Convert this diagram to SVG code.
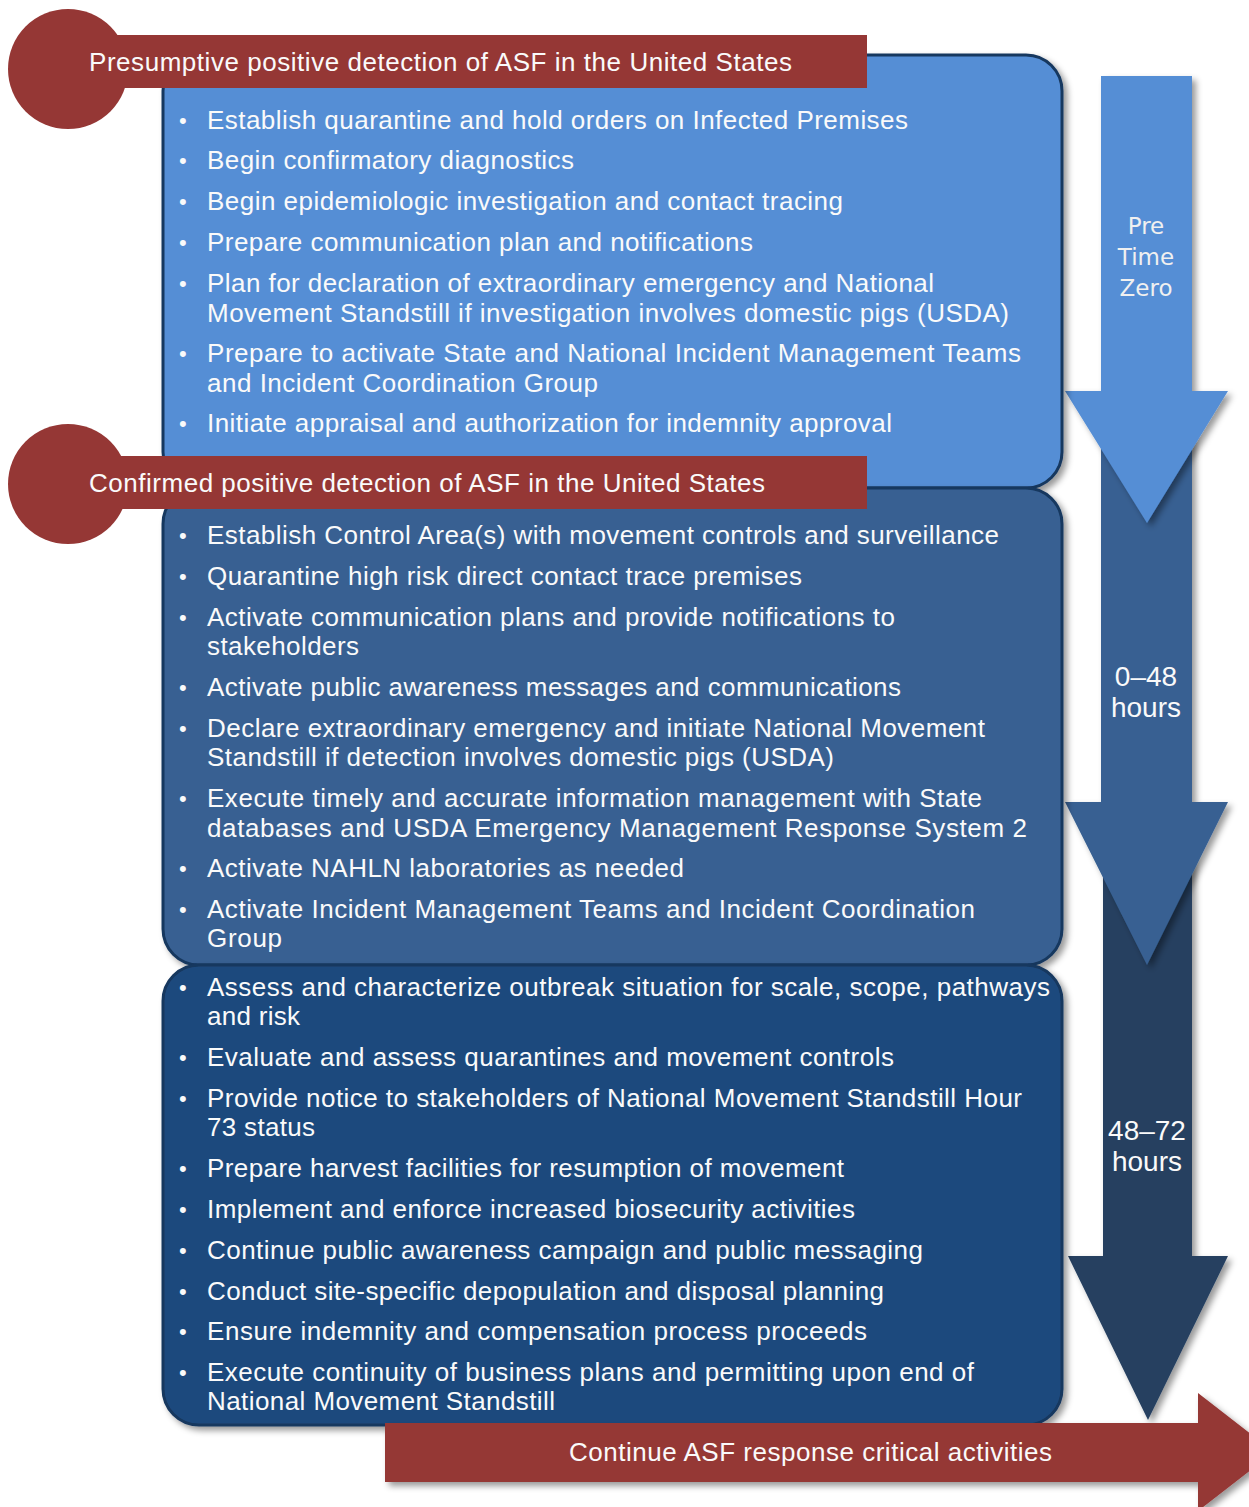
<svg xmlns="http://www.w3.org/2000/svg" width="1249" height="1507" viewBox="0 0 1249 1507">
<defs>
<filter id="sh" x="-10%" y="-10%" width="130%" height="130%">
<feDropShadow dx="4" dy="4" stdDeviation="3" flood-color="#000" flood-opacity="0.4"/>
</filter>
</defs>
<style>
.t{font-family:"Liberation Sans",Arial,sans-serif;font-size:26px;fill:#FAFAFA}
.b{font-family:"Liberation Sans",Arial,sans-serif;font-size:22px;fill:#FAFAFA}
.h{font-family:"Liberation Sans",Arial,sans-serif;font-size:26px;fill:#FAFAFA}
.lab{font-family:"Liberation Sans",Arial,sans-serif;font-size:28px;fill:#FAFAFA;text-anchor:middle}
.lab2{font-family:"DejaVu Sans","Liberation Sans",sans-serif;font-size:23px;fill:#F0F0F0;text-anchor:middle}
.box{stroke:#17375E;stroke-width:3}
.red{fill:#953735}
</style>
<rect width="1249" height="1507" fill="#FFFFFF"/>

<g id="timeline">
<polygon filter="url(#sh)" fill="#254061" points="1103,830 1192,830 1192,1256 1228,1256 1148,1420 1068,1256 1103,1256"/>
<polygon filter="url(#sh)" fill="#376092" points="1101,420 1192,420 1192,802 1228,802 1147,965 1065,802 1101,802"/>
<polygon filter="url(#sh)" fill="#558ED5" points="1101,76 1192,76 1192,391 1228,391 1147,523 1065,391 1101,391"/>
<text class="lab2" x="1146" y="234">Pre</text>
<text class="lab2" x="1146" y="265">Time</text>
<text class="lab2" x="1146" y="296">Zero</text>
<text class="lab" x="1146" y="686">0–48</text>
<text class="lab" x="1146" y="717">hours</text>
<text class="lab" x="1147" y="1140">48–72</text>
<text class="lab" x="1147" y="1171">hours</text>
</g>

<g id="box1">
<rect class="box" filter="url(#sh)" x="163" y="55" width="899" height="433" rx="36" fill="#558ED5"/>
<g>
<text class="b" x="179" y="128">•</text><text class="t" x="207" y="129" textLength="701" lengthAdjust="spacing">Establish quarantine and hold orders on Infected Premises</text>
<text class="b" x="179" y="168">•</text><text class="t" x="207" y="169" textLength="367" lengthAdjust="spacing">Begin confirmatory diagnostics</text>
<text class="b" x="179" y="209">•</text><text class="t" x="207" y="210" textLength="636" lengthAdjust="spacing">Begin epidemiologic investigation and contact tracing</text>
<text class="b" x="179" y="250">•</text><text class="t" x="207" y="251" textLength="546" lengthAdjust="spacing">Prepare communication plan and notifications</text>
<text class="b" x="179" y="291">•</text><text class="t" x="207" y="292" textLength="727" lengthAdjust="spacing">Plan for declaration of extraordinary emergency and National</text>
<text class="t" x="207" y="322" textLength="802" lengthAdjust="spacing">Movement Standstill if investigation involves domestic pigs (USDA)</text>
<text class="b" x="179" y="361">•</text><text class="t" x="207" y="362" textLength="814" lengthAdjust="spacing">Prepare to activate State and National Incident Management Teams</text>
<text class="t" x="207" y="392" textLength="391" lengthAdjust="spacing">and Incident Coordination Group</text>
<text class="b" x="179" y="431">•</text><text class="t" x="207" y="432" textLength="685" lengthAdjust="spacing">Initiate appraisal and authorization for indemnity approval</text>
</g>
</g>

<g id="box2">
<rect class="box" filter="url(#sh)" x="163" y="488" width="899" height="477" rx="36" fill="#376092"/>
<text class="b" x="179" y="543">•</text><text class="t" x="207" y="544" textLength="792" lengthAdjust="spacing">Establish Control Area(s) with movement controls and surveillance</text>
<text class="b" x="179" y="584">•</text><text class="t" x="207" y="585" textLength="595" lengthAdjust="spacing">Quarantine high risk direct contact trace premises</text>
<text class="b" x="179" y="625">•</text><text class="t" x="207" y="626" textLength="688" lengthAdjust="spacing">Activate communication plans and provide notifications to</text>
<text class="t" x="207" y="655" textLength="152" lengthAdjust="spacing">stakeholders</text>
<text class="b" x="179" y="695">•</text><text class="t" x="207" y="696" textLength="694" lengthAdjust="spacing">Activate public awareness messages and communications</text>
<text class="b" x="179" y="736">•</text><text class="t" x="207" y="737" textLength="778" lengthAdjust="spacing">Declare extraordinary emergency and initiate National Movement</text>
<text class="t" x="207" y="766" textLength="627" lengthAdjust="spacing">Standstill if detection involves domestic pigs (USDA)</text>
<text class="b" x="179" y="806">•</text><text class="t" x="207" y="807" textLength="775" lengthAdjust="spacing">Execute timely and accurate information management with State</text>
<text class="t" x="207" y="837" textLength="820" lengthAdjust="spacing">databases and USDA Emergency Management Response System 2</text>
<text class="b" x="179" y="876">•</text><text class="t" x="207" y="877" textLength="477" lengthAdjust="spacing">Activate NAHLN laboratories as needed</text>
<text class="b" x="179" y="917">•</text><text class="t" x="207" y="918" textLength="768" lengthAdjust="spacing">Activate Incident Management Teams and Incident Coordination</text>
<text class="t" x="207" y="947" textLength="75" lengthAdjust="spacing">Group</text>
</g>

<g id="box3">
<rect class="box" filter="url(#sh)" x="163" y="965" width="899" height="460" rx="36" fill="#1F497D"/>
<text class="b" x="179" y="995">•</text><text class="t" x="207" y="996" textLength="843" lengthAdjust="spacing">Assess and characterize outbreak situation for scale, scope, pathways</text>
<text class="t" x="207" y="1025" textLength="93" lengthAdjust="spacing">and risk</text>
<text class="b" x="179" y="1065">•</text><text class="t" x="207" y="1066" textLength="687" lengthAdjust="spacing">Evaluate and assess quarantines and movement controls</text>
<text class="b" x="179" y="1106">•</text><text class="t" x="207" y="1107" textLength="815" lengthAdjust="spacing">Provide notice to stakeholders of National Movement Standstill Hour</text>
<text class="t" x="207" y="1136" textLength="108" lengthAdjust="spacing">73 status</text>
<text class="b" x="179" y="1176">•</text><text class="t" x="207" y="1177" textLength="637" lengthAdjust="spacing">Prepare harvest facilities for resumption of movement</text>
<text class="b" x="179" y="1217">•</text><text class="t" x="207" y="1218" textLength="648" lengthAdjust="spacing">Implement and enforce increased biosecurity activities</text>
<text class="b" x="179" y="1258">•</text><text class="t" x="207" y="1259" textLength="716" lengthAdjust="spacing">Continue public awareness campaign and public messaging</text>
<text class="b" x="179" y="1299">•</text><text class="t" x="207" y="1300" textLength="677" lengthAdjust="spacing">Conduct site-specific depopulation and disposal planning</text>
<text class="b" x="179" y="1339">•</text><text class="t" x="207" y="1340" textLength="660" lengthAdjust="spacing">Ensure indemnity and compensation process proceeds</text>
<text class="b" x="179" y="1380">•</text><text class="t" x="207" y="1381" textLength="767" lengthAdjust="spacing">Execute continuity of business plans and permitting upon end of</text>
<text class="t" x="207" y="1410" textLength="348" lengthAdjust="spacing">National Movement Standstill</text>
</g>

<g id="banner1">
<circle class="red" cx="68" cy="69" r="60"/>
<rect class="red" x="68" y="35" width="799" height="53"/>
<text class="h" x="89" y="71" textLength="703" lengthAdjust="spacing">Presumptive positive detection of ASF in the United States</text>
</g>

<g id="banner2">
<circle class="red" cx="68" cy="484" r="60"/>
<rect class="red" x="68" y="456" width="799" height="53"/>
<text class="h" x="89" y="492" textLength="676" lengthAdjust="spacing">Confirmed positive detection of ASF in the United States</text>
</g>

<g id="continue">
<polygon class="red" filter="url(#sh)" points="385,1423 1198,1423 1198,1393 1274,1452 1198,1511 1198,1482 385,1482"/>
<text class="h" x="569" y="1461" textLength="483" lengthAdjust="spacing">Continue ASF response critical activities</text>
</g>
</svg>
